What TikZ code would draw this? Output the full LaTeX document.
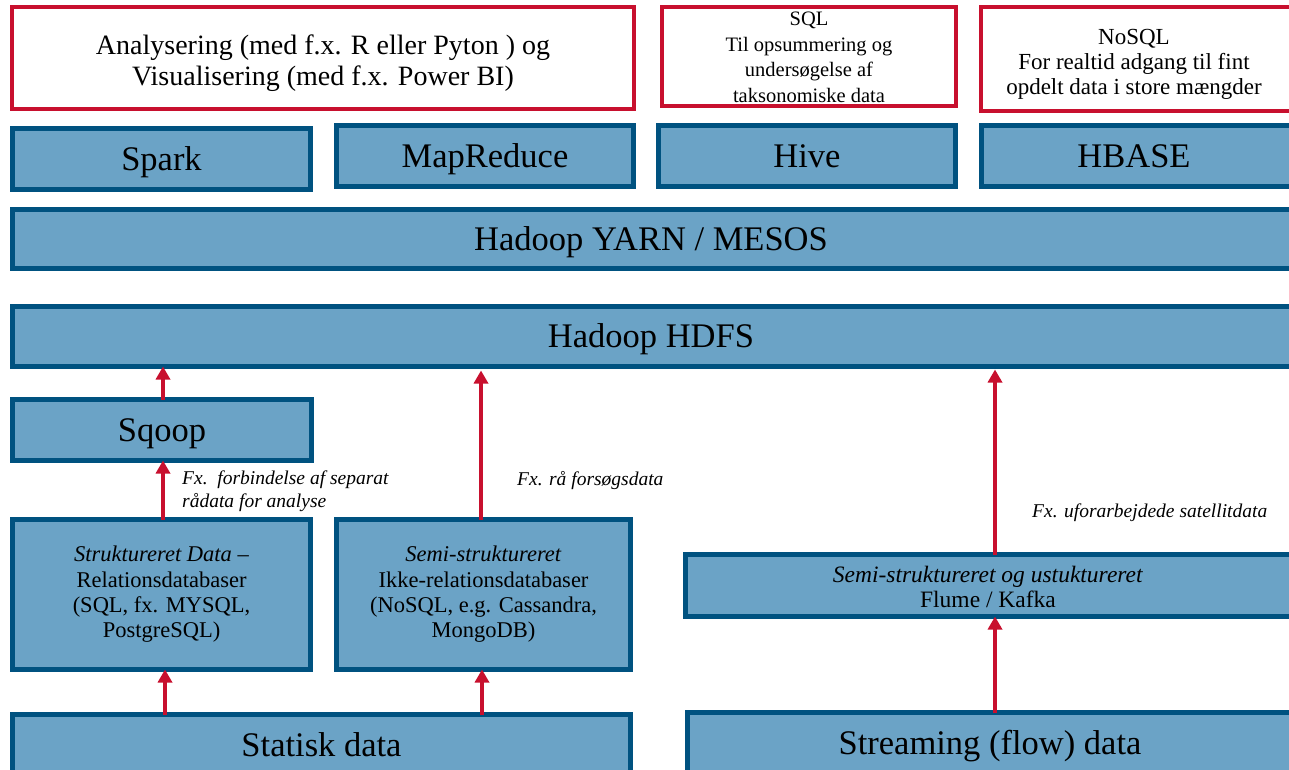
\documentclass[tikz,border=0pt]{standalone}
\usepackage{fontspec}
\setmainfont{Liberation Serif}
\usetikzlibrary{arrows.meta,calc}
\definecolor{boxfill}{RGB}{107,163,198}
\definecolor{boxline}{RGB}{0,82,128}
\definecolor{redline}{RGB}{200,16,46}
\newcommand{\dn}[2]{\raisebox{-#1pt}[\height][\depth]{#2}}
\tikzset{
  bluebox/.style={draw=boxline, fill=boxfill, line width=5pt, rectangle, anchor=north west, inner sep=0pt, outer sep=0pt, align=center, text=black},
  redbox/.style={draw=redline, fill=white, line width=4pt, rectangle, anchor=north west, inner sep=0pt, outer sep=0pt, align=center, text=black},
  big/.style={font=\fontsize{34.5}{40}\selectfont, text height=22.8pt, text depth=0pt},
  arr/.style={draw=redline, line width=4pt, -{Triangle[length=13pt,width=14pt]}},
  note/.style={font=\fontsize{19.5}{23}\selectfont\itshape, anchor=north west, inner sep=0pt, align=left}
}
\begin{document}
\begin{tikzpicture}[x=1pt,y=-1pt]
\useasboundingbox (0,0) rectangle (1289,770);
\clip (0,0) rectangle (1289,770);
% top red boxes
\node[redbox, minimum width=622pt, minimum height=102pt, font=\fontsize{28}{31}\selectfont] (ana) at (12,7) {\dn{5}{Analysering (med f.x. R eller Pyton ) og}\\\dn{5}{Visualisering (med f.x. Power BI)}};
\node[redbox, minimum width=294pt, minimum height=99pt, font=\fontsize{20.5}{25.5}\selectfont] (sql) at (662,7) {\dn{1}{SQL}\\\dn{1}{Til opsummering og}\\\dn{1}{undersøgelse af}\\\dn{1}{taksonomiske data}};
\node[redbox, minimum width=326pt, minimum height=104pt, font=\fontsize{23}{25}\selectfont] (nosql) at (981,7) {\hspace*{-20pt}\dn{5}{NoSQL}\\\hspace*{-20pt}\dn{5}{For realtid adgang til fint}\\\hspace*{-20pt}\dn{5}{opdelt data i store mængder}};
% tools
\node[bluebox, big, minimum width=298pt, minimum height=61pt] (spark) at (12.5,128.5) {Spark};
\node[bluebox, big, minimum width=297pt, minimum height=61pt] (mapred) at (336.5,125.5) {MapReduce};
\node[bluebox, big, minimum width=297pt, minimum height=61pt] (hive) at (658.5,125.5) {Hive};
\node[bluebox, big, minimum width=325pt, minimum height=61pt] (hbase) at (981.5,125.5) {\hspace*{-20pt}HBASE};
% layers
\node[bluebox, big, minimum width=1295pt, minimum height=59pt] (yarn) at (12.5,209.5) {\hspace*{-18pt}Hadoop YARN / MESOS};
\node[bluebox, big, minimum width=1295pt, minimum height=60pt] (hdfs) at (12.5,306.5) {\hspace*{-18pt}Hadoop HDFS};
% ingestion
\node[bluebox, big, minimum width=299pt, minimum height=61pt] (sqoop) at (12.5,399.5) {Sqoop};
\node[bluebox, minimum width=298pt, minimum height=150pt, font=\fontsize{22.5}{25.3}\selectfont] (struct) at (12.5,519.5) {\textit{Struktureret Data} –\\Relationsdatabaser\\(SQL, fx. MYSQL,\\PostgreSQL)};
\node[bluebox, minimum width=294pt, minimum height=150pt, font=\fontsize{22.5}{25.3}\selectfont] (semi) at (336.5,519.5) {\textit{Semi-struktureret}\\Ikke-relationsdatabaser\\(NoSQL, e.g. Cassandra,\\MongoDB)};
\node[bluebox, minimum width=615pt, minimum height=62pt, font=\fontsize{23.5}{25}\selectfont] (flume) at (685.5,554.5) {\hspace*{-10pt}\dn{1}{\textit{Semi-struktureret og ustuktureret}}\\\hspace*{-10pt}\dn{1}{Flume / Kafka}};
% sources
\node[bluebox, big, minimum width=618pt, minimum height=61pt] (statisk) at (12.5,714.5) {Statisk data};
\node[bluebox, big, minimum width=615pt, minimum height=61pt] (stream) at (687.5,712.5) {\hspace*{-10pt}Streaming (flow) data};
% arrows
\coordinate (ax1) at (163,0);
\coordinate (ax2) at (481,0);
\coordinate (ax3) at (995,0);
\coordinate (ax4) at (165,0);
\coordinate (ax5) at (482,0);
\draw[arr] (ax1 |- sqoop.north) -- (ax1 |- hdfs.south);
\draw[arr] (ax1 |- struct.north) -- (ax1 |- sqoop.south);
\draw[arr] (ax2 |- semi.north) -- ($(ax2 |- hdfs.south)+(0,4)$);
\draw[arr] (ax3 |- flume.north) -- ($(ax3 |- hdfs.south)+(0,3)$);
\draw[arr] (ax4 |- statisk.north) -- (ax4 |- struct.south);
\draw[arr] (ax5 |- statisk.north) -- (ax5 |- semi.south);
\draw[arr] (ax3 |- stream.north) -- (ax3 |- flume.south);
% notes
\node[note] (n1) at (182,471) {Fx.\ \ forbindelse af separat\\rådata for analyse};
\node[note] (n2) at (517,471) {Fx. rå forsøgsdata};
\node[note] (n3) at (1032,504) {Fx. uforarbejdede satellitdata};
\end{tikzpicture}
\end{document}
